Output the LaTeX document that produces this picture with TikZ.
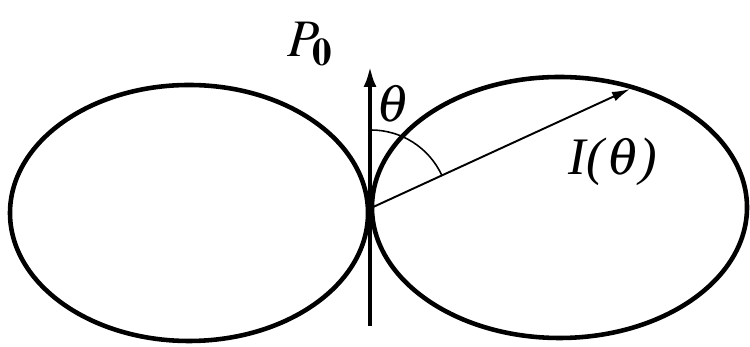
\documentclass[tikz,border=0pt]{standalone}
\usepackage{mathptmx}
\usepackage[no-math]{fontspec}
\setmainfont{Liberation Serif}
\usetikzlibrary{arrows.meta}
\begin{document}
\begin{tikzpicture}[x = 0.02cm, y = 0.02cm, font = \fontsize{30}{36}\selectfont]
	\useasboundingbox (0,0) rectangle (750,347);
	\coordinate (O) at (371,139);
	\coordinate (foot) at (370,21);
	\coordinate (head) at (370,281);
	\coordinate (tip) at (630,258);
	\draw [line width = 2.6pt] (189,134) ellipse [x radius = 179, y radius = 128];
	\draw [line width = 2.6pt] (559.5,139.5) ellipse [x radius = 187.5, y radius = 130.5];
	\draw [line width = 2.6pt, -{Latex[length = 0.42cm, width = 0.26cm]}] (foot) -- (head);
	\draw [line width = 1.1pt, -{Latex[length = 0.36cm, width = 0.2cm]}] (O) -- (tip);
	\draw [line width = 0.9pt] ([shift = {(90:78)}]O) arc [start angle = 90, end angle = 24.7, radius = 78];
	\node (P0) at (310,303) {$P_{\mathbf{0}}$};
	\node (theta) at (393,243) {$\theta$};
	\node (I) at (613,185) {\textit{I(}$\theta$\textit{)}};
\end{tikzpicture}
\end{document}
